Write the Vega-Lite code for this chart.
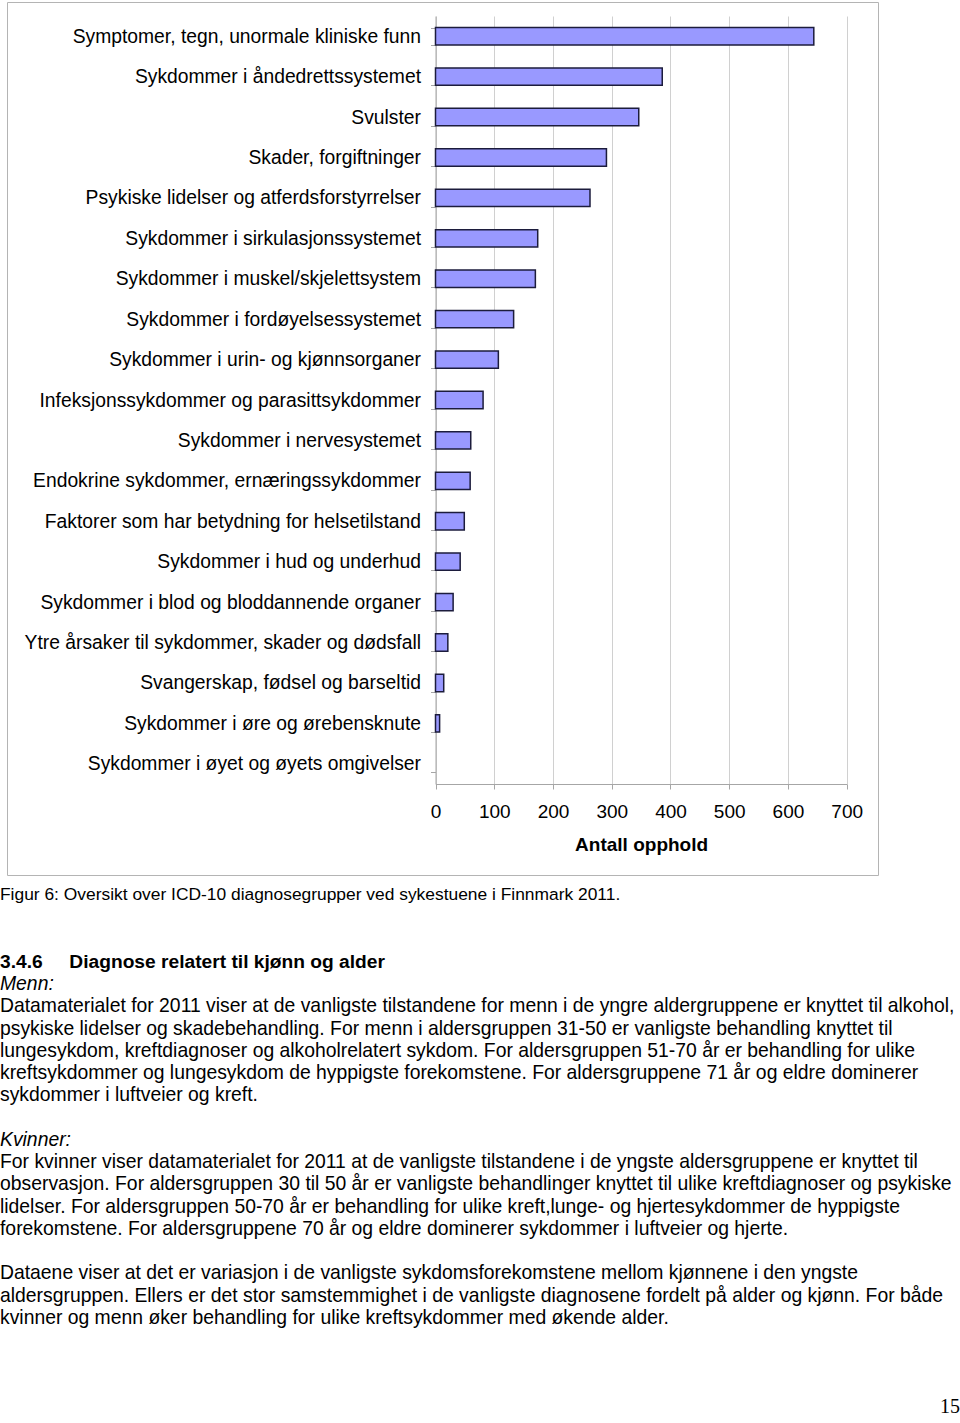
{
  "$schema": "https://vega.github.io/schema/vega-lite/v6.json",
  "padding": {"left": 0, "top": -8, "right": 0, "bottom": 0},
  "background": "white",
  "spacing": 10,
  "config": {
    "view": {"stroke": null},
    "font": "Liberation Sans"
  },
  "datasets": {
    "bars": [
      {"gruppe": "Symptomer, tegn, unormale kliniske funn", "antall": 644},
      {"gruppe": "Sykdommer i åndedrettssystemet", "antall": 386},
      {"gruppe": "Svulster", "antall": 346},
      {"gruppe": "Skader, forgiftninger", "antall": 291},
      {"gruppe": "Psykiske lidelser og atferdsforstyrrelser", "antall": 263},
      {"gruppe": "Sykdommer i sirkulasjonssystemet", "antall": 174},
      {"gruppe": "Sykdommer i muskel/skjelettsystem", "antall": 170},
      {"gruppe": "Sykdommer i fordøyelsessystemet", "antall": 133},
      {"gruppe": "Sykdommer i urin- og kjønnsorganer", "antall": 107},
      {"gruppe": "Infeksjonssykdommer og parasittsykdommer", "antall": 81},
      {"gruppe": "Sykdommer i nervesystemet", "antall": 60},
      {"gruppe": "Endokrine sykdommer, ernæringssykdommer", "antall": 59},
      {"gruppe": "Faktorer som har betydning for helsetilstand", "antall": 49},
      {"gruppe": "Sykdommer i hud og underhud", "antall": 42},
      {"gruppe": "Sykdommer i blod og bloddannende organer", "antall": 30},
      {"gruppe": "Ytre årsaker til sykdommer, skader og dødsfall", "antall": 21},
      {"gruppe": "Svangerskap, fødsel og barseltid", "antall": 14},
      {"gruppe": "Sykdommer i øre og ørebensknute", "antall": 7},
      {"gruppe": "Sykdommer i øyet og øyets omgivelser", "antall": 0}
    ],
    "lines": [
      {"linje": 0, "type": "figur", "tekst": "Figur 6: Oversikt over ICD-10 diagnosegrupper ved sykestuene i Finnmark 2011."},
      {"linje": 3, "type": "overskrift", "tekst": "3.4.6\u00a0\u00a0\u00a0\u00a0\u00a0Diagnose relatert til kjønn og alder"},
      {"linje": 4, "type": "kursiv", "tekst": "Menn:"},
      {"linje": 5, "type": "tekst", "tekst": "Datamaterialet for 2011 viser at de vanligste tilstandene for menn i de yngre aldergruppene er knyttet til alkohol,"},
      {"linje": 6, "type": "tekst", "tekst": "psykiske lidelser og skadebehandling. For menn i aldersgruppen 31-50 er vanligste behandling knyttet til"},
      {"linje": 7, "type": "tekst", "tekst": "lungesykdom, kreftdiagnoser og alkoholrelatert sykdom. For aldersgruppen 51-70 år er behandling for ulike"},
      {"linje": 8, "type": "tekst", "tekst": "kreftsykdommer og lungesykdom de hyppigste forekomstene. For aldersgruppene 71 år og eldre dominerer"},
      {"linje": 9, "type": "tekst", "tekst": "sykdommer i luftveier og kreft."},
      {"linje": 11, "type": "kursiv", "tekst": "Kvinner:"},
      {"linje": 12, "type": "tekst", "tekst": "For kvinner viser datamaterialet for 2011 at de vanligste tilstandene i de yngste aldersgruppene er knyttet til"},
      {"linje": 13, "type": "tekst", "tekst": "observasjon. For aldersgruppen 30 til 50 år er vanligste behandlinger knyttet til ulike kreftdiagnoser og psykiske"},
      {"linje": 14, "type": "tekst", "tekst": "lidelser. For aldersgruppen 50-70 år er behandling for ulike kreft,lunge- og hjertesykdommer de hyppigste"},
      {"linje": 15, "type": "tekst", "tekst": "forekomstene. For aldersgruppene 70 år og eldre dominerer sykdommer i luftveier og hjerte."},
      {"linje": 17, "type": "tekst", "tekst": "Dataene viser at det er variasjon i de vanligste sykdomsforekomstene mellom kjønnene i den yngste"},
      {"linje": 18, "type": "tekst", "tekst": "aldersgruppen. Ellers er det stor samstemmighet i de vanligste diagnosene fordelt på alder og kjønn. For både"},
      {"linje": 19, "type": "tekst", "tekst": "kvinner og menn øker behandling for ulike kreftsykdommer med økende alder."},
      {"linje": 23, "type": "side", "tekst": "15"}
    ]
  },
  "vconcat": [
    {
      "data": {"name": "bars"},
      "width": 871,
      "height": 873,
      "view": {"stroke": "#b4b4b4", "strokeWidth": 1},
      "encoding": {
        "y": {
          "field": "gruppe",
          "type": "nominal",
          "sort": null,
          "scale": {"range": [14, 782], "paddingInner": 0.57, "paddingOuter": 0.285},
          "axis": {
            "title": null,
            "offset": -428.5,
            "labelFontSize": 19.3,
            "labelColor": "#000000",
            "labelPadding": 10,
            "labelLimit": 600,
            "tickSize": 5,
            "tickColor": "#a6a6a6",
            "domainColor": "#a6a6a6",
            "tickBand": "extent"
          }
        }
      },
      "layer": [
        {
          "mark": {"type": "bar", "fill": "#9999ff", "stroke": "#1c1c3c", "strokeWidth": 1.5},
          "encoding": {
            "x": {
              "field": "antall",
              "type": "quantitative",
              "scale": {"domain": [0, 700], "range": [428.5, 839.7], "nice": false},
              "axis": {
                "values": [0, 100, 200, 300, 400, 500, 600, 700],
                "offset": -91,
                "title": "Antall opphold",
                "titleFontSize": 19,
                "titleFontWeight": "bold",
                "titleColor": "#000000",
                "titlePadding": 14,
                "labelFontSize": 19,
                "labelColor": "#000000",
                "labelPadding": 13,
                "labelFlush": false,
                "tickSize": 5,
                "tickColor": "#a6a6a6",
                "domainColor": "#a6a6a6",
                "grid": false
              }
            },
            "strokeOpacity": {"condition": {"test": "datum.antall == 0", "value": 0}, "value": 1}
          }
        },
        {
          "transform": [{"filter": "false"}],
          "mark": {"type": "tick"},
          "encoding": {
            "x": {
              "field": "antall",
              "type": "quantitative",
              "axis": {
                "orient": "top",
                "values": [0, 100, 200, 300, 400, 500, 600, 700],
                "grid": true,
                "gridScale": "y",
                "gridColor": "#d0d0d0",
                "labels": false,
                "ticks": false,
                "domain": false,
                "title": null
              }
            }
          }
        }
      ],
      "resolve": {"axis": {"x": "independent"}}
    },
    {
      "data": {"name": "lines"},
      "width": 960,
      "height": 511.75,
      "encoding": {
        "y": {"field": "linje", "type": "quantitative", "scale": {"domain": [0, 23], "reverse": true, "nice": false, "zero": false}, "axis": null},
        "text": {"field": "tekst", "type": "nominal"}
      },
      "layer": [
        {
          "transform": [{"filter": "datum.type == 'tekst'"}],
          "mark": {"type": "text", "align": "left", "baseline": "middle", "fontSize": 19.35, "color": "#000000"},
          "encoding": {"x": {"datum": 0, "type": "quantitative", "scale": {"domain": [0, 1], "range": [-7, 953]}, "axis": null}}
        },
        {
          "transform": [{"filter": "datum.type == 'figur'"}],
          "mark": {"type": "text", "align": "left", "baseline": "middle", "fontSize": 17.4, "color": "#000000"},
          "encoding": {"x": {"datum": 0, "type": "quantitative"}}
        },
        {
          "transform": [{"filter": "datum.type == 'overskrift'"}],
          "mark": {"type": "text", "align": "left", "baseline": "middle", "fontSize": 19.2, "fontWeight": "bold", "color": "#000000"},
          "encoding": {"x": {"datum": 0, "type": "quantitative"}}
        },
        {
          "transform": [{"filter": "datum.type == 'kursiv'"}],
          "mark": {"type": "text", "align": "left", "baseline": "middle", "fontSize": 19.35, "fontStyle": "italic", "color": "#000000"},
          "encoding": {"x": {"datum": 0, "type": "quantitative"}}
        },
        {
          "transform": [{"filter": "datum.type == 'side'"}],
          "mark": {"type": "text", "align": "right", "baseline": "middle", "fontSize": 20, "font": "Liberation Serif", "color": "#000000"},
          "encoding": {"x": {"datum": 1, "type": "quantitative"}}
        }
      ]
    }
  ]
}
